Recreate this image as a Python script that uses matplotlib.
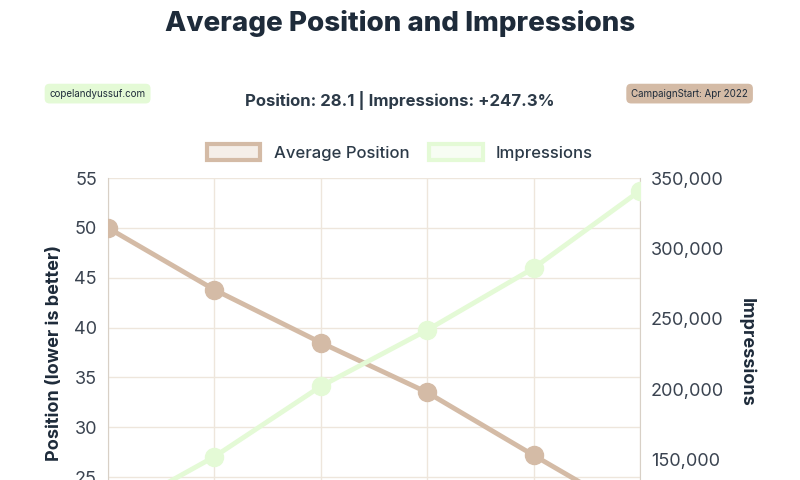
import matplotlib.pyplot as plt
from matplotlib.patches import Patch
from matplotlib.ticker import FuncFormatter, MultipleLocator

plt.rcParams['font.family'] = ['Inter', 'DejaVu Sans']

months = ['Apr 2022', 'May 2022', 'Jun 2022', 'Jul 2022', 'Aug 2022', 'Sep 2022']
position = [50.0, 43.8, 38.5, 33.5, 27.2, 21.0]
impressions = [110000, 152000, 202000, 242000, 286000, 341000]

pos_color = '#D4BBA6'
imp_color = '#E4FAD6'
text_color = '#1E2B3A'
grid_color = '#EEE6DC'

fig = plt.figure(figsize=(8, 4.8), dpi=100)
ax = fig.add_axes([0.135, -0.098, 0.665, 0.727])
ax2 = ax.twinx()

x = list(range(len(months)))
ax.plot(x, position, color=pos_color, lw=3.5, marker='o', ms=13, zorder=3)
ax2.plot(x, impressions, color=imp_color, lw=3.5, marker='o', ms=13, zorder=3)

ax.set_xlim(0, len(months) - 1)
ax.set_xticks(x)
ax.set_xticklabels(months)
ax.set_ylim(20, 55)
ax.yaxis.set_major_locator(MultipleLocator(5))
ax2.set_ylim(102000, 350000)
ax2.yaxis.set_major_locator(MultipleLocator(50000))
ax2.yaxis.set_major_formatter(FuncFormatter(lambda v, p: f'{int(v):,}'))

ax.grid(True, color=grid_color, lw=1)
ax.set_axisbelow(True)
for a in (ax, ax2):
    for s in a.spines.values():
        s.set_visible(False)
    a.tick_params(length=0, labelsize=13, colors='#3A4350', pad=8)
ax.spines['left'].set_visible(True)
ax.spines['left'].set_color('#D8D0C6')
ax2.spines['right'].set_visible(True)
ax2.spines['right'].set_color('#D8D0C6')

ax.set_ylabel('Position (lower is better)', fontsize=13, fontweight='bold', color=text_color, labelpad=8)
ax2.set_ylabel('Impressions', fontsize=13, fontweight='bold', color=text_color, rotation=270, labelpad=22)

fig.text(0.5, 0.952, 'Average Position and Impressions', ha='center', va='center',
         fontsize=20, fontweight='heavy', color=text_color)
fig.text(0.5, 0.79, 'Position: 28.1 | Impressions: +247.3%', ha='center', va='center',
         fontsize=12, fontweight='bold', color='#2C3A48')
fig.text(0.122, 0.805, 'copelandyussuf.com', ha='center', va='center', fontsize=7, color=text_color,
         bbox=dict(boxstyle='round,pad=0.5', fc=imp_color, ec='none'))
fig.text(0.862, 0.805, 'CampaignStart: Apr 2022', ha='center', va='center', fontsize=7, color=text_color,
         bbox=dict(boxstyle='round,pad=0.5', fc=pos_color, ec='none'))

handles = [Patch(facecolor='#F5EFE9', edgecolor=pos_color, lw=3, label='Average Position'),
           Patch(facecolor='#F7FDF3', edgecolor=imp_color, lw=3, label='Impressions')]
leg = fig.legend(handles=handles, loc='center', bbox_to_anchor=(0.5, 0.682), ncol=2, frameon=False,
                 fontsize=12, handlelength=3.2, handleheight=1.1, columnspacing=1.2, labelcolor='#2C3A48')
for t in leg.get_texts():
    t.set_fontweight('medium')

fig.savefig('out.png', dpi=100)
